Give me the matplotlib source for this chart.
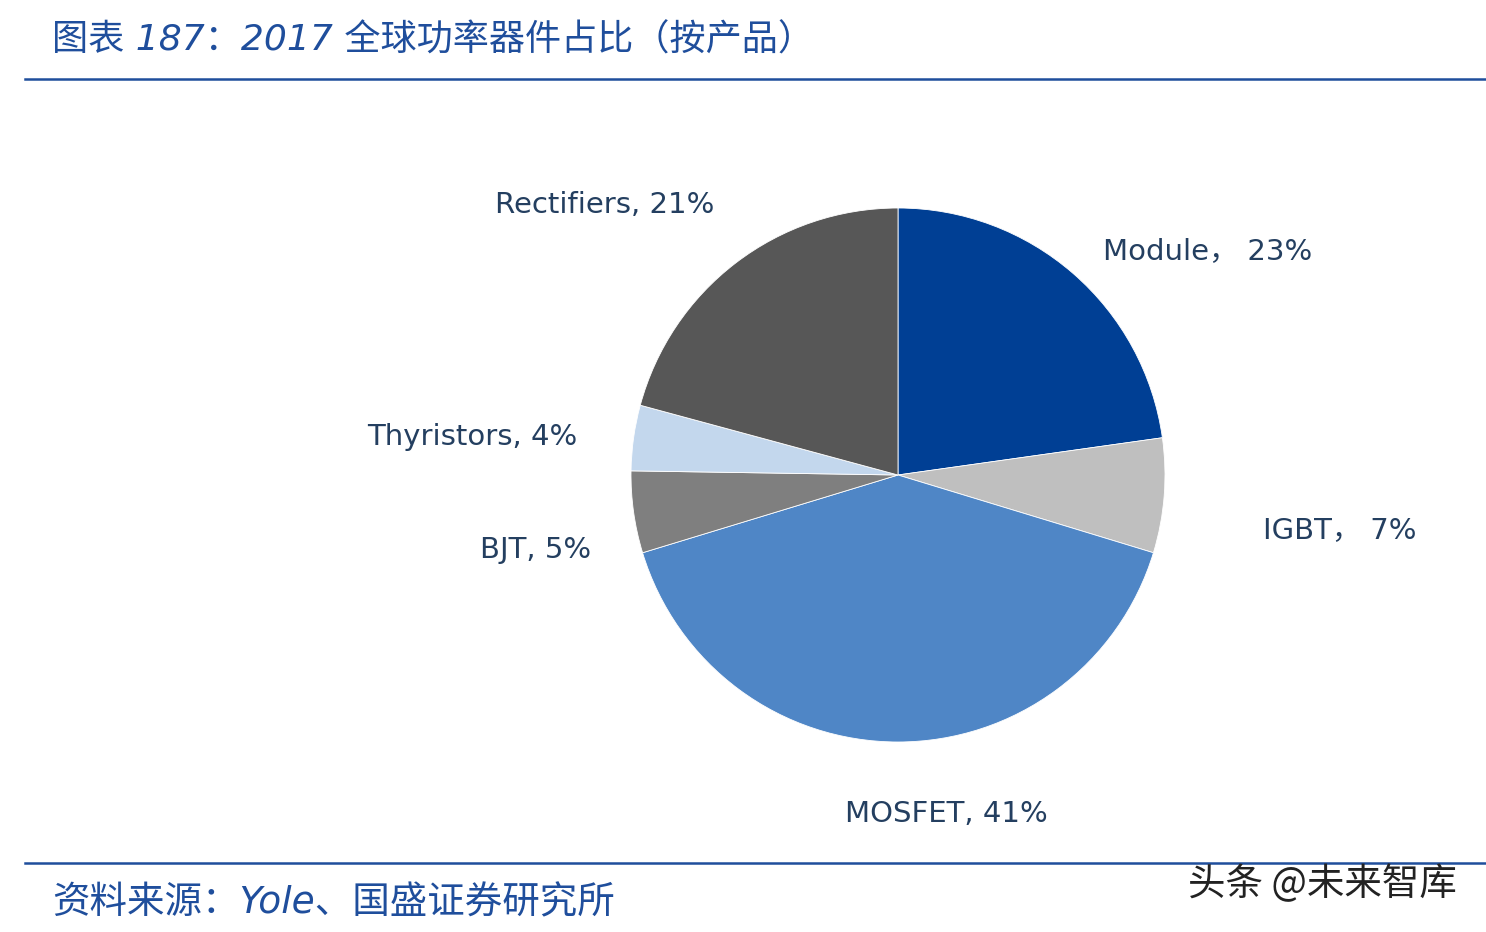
import matplotlib
matplotlib.use("Agg")

import matplotlib.pyplot as plt
from matplotlib.lines import Line2D


# data
products = ["Module", "IGBT", "MOSFET", "BJT", "Thyristors", "Rectifiers"]
shares = [23, 7, 41, 5, 4, 21]
label_texts = ["Module， 23%", "IGBT， 7%", "MOSFET, 41%", "BJT, 5%", "Thyristors, 4%", "Rectifiers, 21%"]

COLORS = ["#003f94", "#bfbfbf", "#4f86c6", "#7f7f7f", "#c3d7ed", "#575757"]
# label centres in pie-radius units (layout only)
LABEL_POS = [(1.16, 0.84), (1.655, -0.206), (0.18, -1.27),
             (-1.356, -0.28), (-1.595, 0.142), (-1.10, 1.01)]

BLUE = "#1f4e9c"
LABEL_COLOR = "#243f60"
FONTS = ["DejaVu Sans", "Noto Sans CJK SC"]

plt.rcParams["font.family"] = FONTS

W, H = 1486, 932
fig = plt.figure(figsize=(W / 100, H / 100), dpi=100)

# pie centre (898, 475) px, radius 267 px
cx, cy, r = 898, 475, 267
ax = fig.add_axes([(cx - r) / W, (H - cy - r) / H, 2 * r / W, 2 * r / H])
ax.pie(shares, colors=COLORS, startangle=90, counterclock=False, radius=1,
       wedgeprops=dict(edgecolor="white", linewidth=0.6))
ax.set_xlim(-1, 1)
ax.set_ylim(-1, 1)
ax.set_aspect("auto")
ax.axis("off")

for text, (lx, ly) in zip(label_texts, LABEL_POS):
    ax.text(lx, ly, text, ha="center", va="center", fontsize=21,
            color=LABEL_COLOR, clip_on=False)

# header / footer rules
fig.add_artist(Line2D([25 / W, 1], [1 - 79 / H, 1 - 79 / H], color=BLUE, lw=1.8))
fig.add_artist(Line2D([25 / W, 1], [1 - 863 / H, 1 - 863 / H], color=BLUE, lw=1.8))

fig.text(52 / W, 1 - 40 / H, "图表 187：2017 全球功率器件占比（按产品）",
         ha="left", va="center", fontsize=26, color=BLUE, style="italic",
         family=["DejaVu Sans", "Noto Sans CJK SC"])
fig.text(52 / W, 1 - 903 / H, "资料来源：Yole、国盛证券研究所",
         ha="left", va="center", fontsize=27, color=BLUE, style="italic",
         family=["DejaVu Sans", "Noto Sans CJK SC"])
fig.text(1188 / W, 1 - 885 / H, "头条 @未来智库",
         ha="left", va="center", fontsize=27, color="#222222",
         family=["Noto Sans CJK SC", "DejaVu Sans"])

fig.savefig("out.png", dpi=100, facecolor="white")
